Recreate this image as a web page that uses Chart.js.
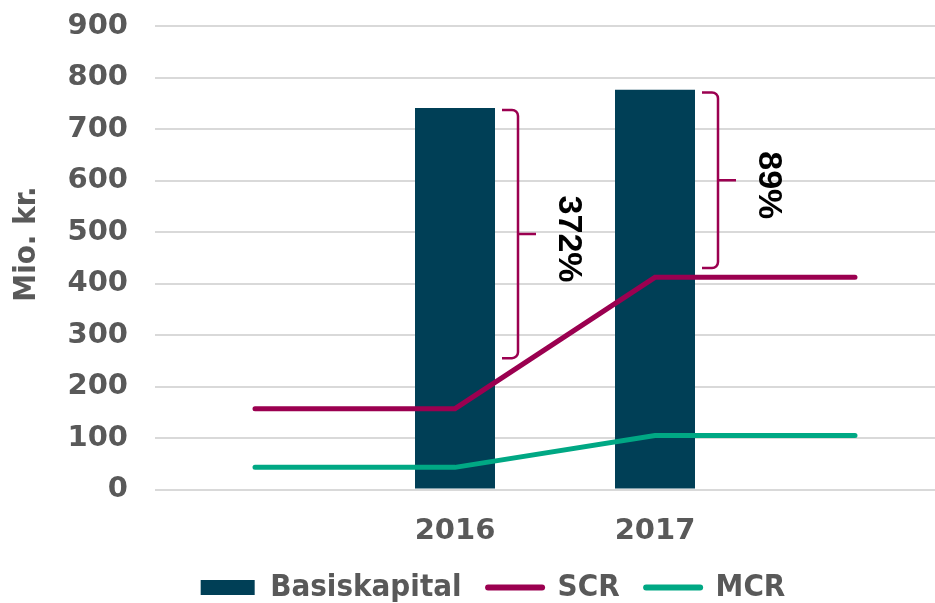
<!DOCTYPE html>
<html>
<head>
<meta charset="utf-8">
<script src="https://cdn.jsdelivr.net/npm/chart.js@4.4.0/dist/chart.umd.min.js"></script>
<style>
html, body { margin: 0; padding: 0; background: #fff; overflow: hidden; }
#wrap { position: relative; width: 935px; height: 603px; overflow: hidden; }
#myChart { position: absolute; left: 0; top: 0; }
</style>
</head>
<body>
<div id="wrap"><canvas id="myChart" width="960" height="613"></canvas></div>
<script>
// data
var categories = ['', '2016', '2017', ''];
var basiskapital = [null, 741, 776, null];
var scr = [157, 157, 412, 412];
var mcr = [43, 43, 105, 105];
var yMin = 0, yMax = 900, yStep = 100;
var yTitle = 'Mio. kr.';

// solvency brackets next to the bars
var bracketBars = [1, 2];
var bracketTop = [737, 771];
var bracketBottom = [255, 430];
var bracketLabels = ['372%', '89%'];

var textColor = '#595959';
var condensed = '"DejaVu Sans Condensed", "DejaVu Sans", sans-serif';

var bracketPlugin = {
    id: 'brackets',
    afterDatasetsDraw: function (chart) {
        var ctx = chart.ctx, y = chart.scales.y;
        var bars = chart.getDatasetMeta(0).data;
        bracketBars.forEach(function (idx, i) {
            var bar = bars[idx];
            var edge = bar.x + bar.width / 2;
            var xl = edge + 23;
            var top = y.getPixelForValue(bracketTop[i]);
            var bot = y.getPixelForValue(bracketBottom[i]);
            var mid = (top + bot) / 2;
            ctx.save();
            ctx.strokeStyle = '#9B0050';
            ctx.lineWidth = 2.5;
            ctx.beginPath();
            ctx.moveTo(edge + 7, top);
            ctx.arcTo(xl, top, xl, bot, 6);
            ctx.arcTo(xl, bot, edge + 7, bot, 6);
            ctx.lineTo(edge + 7, bot);
            ctx.moveTo(xl, mid);
            ctx.lineTo(xl + 18, mid);
            ctx.stroke();
            ctx.translate(edge + 73, mid + 5);
            ctx.rotate(Math.PI / 2);
            ctx.fillStyle = '#000';
            ctx.font = 'bold 34px "Liberation Sans", Arial, sans-serif';
            ctx.textAlign = 'center';
            ctx.textBaseline = 'middle';
            ctx.fillText(bracketLabels[i], 0, 0);
            ctx.restore();
        });

        // axis title, a bit above the middle like the original
        ctx.save();
        ctx.translate(27, 244);
        ctx.rotate(-Math.PI / 2);
        ctx.fillStyle = textColor;
        ctx.font = 'bold 31px ' + condensed;
        ctx.textAlign = 'center';
        ctx.textBaseline = 'middle';
        ctx.fillText(yTitle, 0, 0);
        ctx.restore();
    }
};

window.onload = function () {
    let myChart = document.getElementById('myChart').getContext('2d');

    let chart = new Chart(myChart, {
        data: {
            labels: categories,
            datasets: [
                { type: 'bar', label: 'Basiskapital', data: basiskapital, backgroundColor: '#003F56', barPercentage: 0.4, categoryPercentage: 1, order: 1 },
                { type: 'line', label: 'SCR', data: scr, borderColor: '#9B0050', borderWidth: 5, borderCapStyle: 'round', pointRadius: 0, order: 0 },
                { type: 'line', label: 'MCR', data: mcr, borderColor: '#00A884', borderWidth: 5, borderCapStyle: 'round', pointRadius: 0, order: 0 }
            ]
        },
        options: {
            responsive: false, animation: false,
            layout: { padding: { left: 31, right: 5, top: 26, bottom: 0 } },
            plugins: {
                tooltip: { enabled: false },
                legend: {
                    position: 'bottom',
                    labels: {
                        usePointStyle: true, pointStyleWidth: 54, boxHeight: 15, padding: 26.5,
                        color: textColor,
                        font: { family: condensed, size: 31, weight: 'bold' },
                        generateLabels: function (c) {
                            return c.data.datasets.map(function (ds, i) {
                                var isBar = ds.type === 'bar';
                                return {
                                    text: ds.label, datasetIndex: i,
                                    fillStyle: isBar ? ds.backgroundColor : 'rgba(0,0,0,0)',
                                    strokeStyle: isBar ? ds.backgroundColor : ds.borderColor,
                                    lineWidth: isBar ? 0 : 6, lineCap: 'round',
                                    pointStyle: isBar ? 'rect' : 'line',
                                    fontColor: textColor
                                };
                            });
                        }
                    }
                }
            },
            scales: {
                x: {
                    offset: true,
                    grid: { display: false },
                    border: { display: false },
                    ticks: { color: textColor, padding: 17, font: { family: '"DejaVu Sans", sans-serif', size: 29, weight: 'bold' } },
                    afterFit: function (s) { s.height = 56; }
                },
                y: {
                    min: yMin, max: yMax,
                    grid: { color: '#D9D9D9', lineWidth: 2, drawTicks: false },
                    border: { display: false },
                    ticks: { stepSize: yStep, color: textColor, padding: 27, font: { family: '"DejaVu Sans", sans-serif', size: 29, weight: 'bold' } },
                    afterFit: function (s) { s.width = 124; s.paddingTop = 0; s.paddingBottom = 0; }
                }
            }
        },
        plugins: [bracketPlugin]
    });
};
</script>
</body>
</html>
